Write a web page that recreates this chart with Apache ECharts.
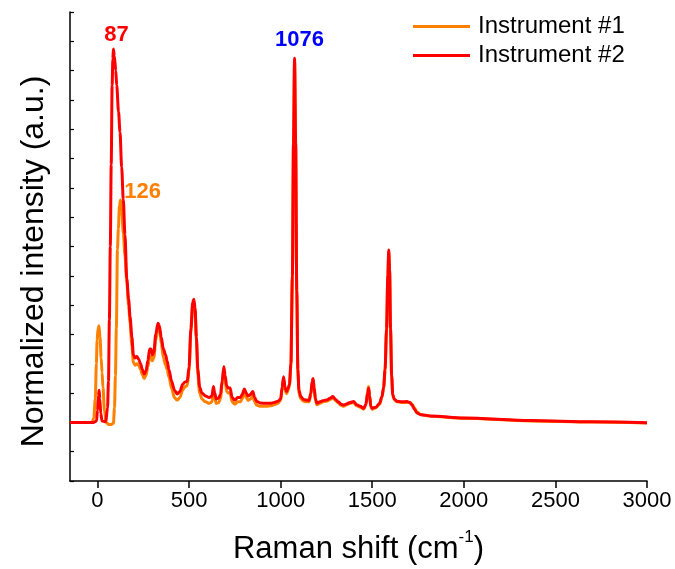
<!DOCTYPE html>
<html><head><meta charset="utf-8">
<script src="https://cdn.jsdelivr.net/npm/echarts@6/dist/echarts.min.js"></script>
<style>html,body{margin:0;padding:0;background:#fff}#c{width:675px;height:569px}</style>
</head><body><div id="c"></div>
<script>
var FONT = "'Liberation Sans', Arial, sans-serif";
var xTicks = [0, 500, 1000, 1500, 2000, 2500, 3000];
var seriesNames = ['Instrument #1', 'Instrument #2'];

var shift1 = [-150,-30,-20,-12,-6,-2,3,8,14,20,25,30,38,48,60,75,87,93,98,103,109,114,120,126,133,141,150,160,170,178,188,196,205,215,225,235,245,255,265,275,285,292,300,308,318,330,338,348,360,372,380,390,405,420,435,450,465,478,490,500,510,520,526,533,540,548,558,570,590,610,625,633,640,648,660,672,680,690,697,705,715,724,735,750,765,780,790,802,812,822,835,848,858,870,890,920,945,965,985,1000,1008,1016,1024,1032,1040,1048,1056,1064,1070,1076,1082,1088,1094,1100,1110,1125,1140,1155,1165,1172,1177,1183,1190,1198,1215,1230,1250,1270,1285,1300,1315,1330,1344,1360,1380,1398,1415,1435,1453,1465,1475,1480,1486,1492,1500,1520,1540,1553,1562,1570,1578,1585,1590,1595,1600,1606,1612,1620,1635,1660,1690,1705,1717,1730,1745,1765,1790,1817,2000,2364,2700,3000];
var intensity1 = [2.0,2.0,2.15,2.8,4.0,4.8,5.2,5.3,4.9,4.2,3.7,3.2,2.4,2.0,1.93,1.93,1.97,2.5,3.6,5.2,7.9,8.6,9.4,9.59,9.2,8.45,7.7,6.8,6.0,5.4,4.6,4.05,3.95,4.0,3.95,3.8,3.62,3.5,3.6,3.9,4.2,4.25,4.1,4.2,4.8,5.3,5.2,4.7,4.2,3.95,3.8,3.55,3.15,2.85,2.76,2.85,3.1,3.22,3.25,3.75,5.1,6.0,6.1,5.8,4.8,3.6,3.0,2.8,2.7,2.65,2.7,3.05,2.85,2.65,2.67,2.8,3.25,3.75,3.45,3.05,3.0,3.0,2.7,2.62,2.7,2.7,2.8,3.0,2.85,2.75,2.8,2.9,2.7,2.58,2.55,2.55,2.57,2.6,2.65,2.75,3.1,3.45,3.1,2.98,3.08,3.25,3.95,6.9,11.4,14.3,11.4,6.4,3.7,3.0,2.8,2.72,2.7,2.7,2.95,3.35,3.45,3.15,2.75,2.6,2.65,2.7,2.72,2.78,2.84,2.74,2.66,2.58,2.55,2.6,2.65,2.68,2.57,2.52,2.45,2.6,3.05,3.22,2.9,2.52,2.45,2.5,2.62,2.85,3.15,3.75,5.1,6.9,7.8,7.1,5.1,3.55,2.92,2.78,2.7,2.68,2.68,2.68,2.62,2.5,2.35,2.27,2.24,2.21,2.14,2.05,2.01,1.98];

var shift2 = [-150,-20,-5,0,5,9,13,18,25,45,55,60,65,70,75,80,84,87,92,100,105,115,123,132,141,150,160,170,178,188,196,205,215,225,235,245,255,265,275,285,292,300,308,318,330,338,348,360,372,380,390,405,420,435,450,465,478,490,500,510,520,526,533,540,548,558,570,590,610,625,633,640,648,660,672,680,690,697,705,715,724,735,750,765,780,790,802,812,822,835,848,858,870,890,920,945,965,985,1000,1008,1016,1024,1032,1040,1048,1056,1064,1070,1076,1082,1088,1094,1100,1110,1125,1140,1155,1165,1172,1177,1183,1190,1198,1215,1230,1250,1270,1285,1300,1315,1330,1344,1360,1380,1398,1415,1435,1453,1465,1475,1480,1486,1492,1500,1520,1540,1553,1562,1570,1578,1585,1590,1595,1600,1606,1612,1620,1635,1660,1690,1705,1717,1730,1745,1765,1790,1817,2000,2364,2700,3000];
var intensity2 = [2.0,2.0,2.05,2.4,2.9,3.1,2.8,2.3,2.05,2.02,2.5,3.4,5.5,8.0,10.8,13.5,14.4,14.74,14.5,14.0,13.5,12.6,11.9,10.7,9.6,8.4,6.9,6.2,5.6,4.9,4.3,4.2,4.25,4.15,4.0,3.8,3.65,3.75,4.1,4.5,4.5,4.3,4.4,5.0,5.38,5.3,4.9,4.5,4.3,4.1,3.8,3.4,3.1,2.97,3.05,3.3,3.38,3.4,3.9,5.2,6.1,6.2,5.9,4.9,3.8,3.2,3.0,2.9,2.85,2.9,3.22,3.0,2.8,2.82,2.95,3.4,3.9,3.6,3.25,3.17,3.17,2.85,2.76,2.85,2.85,2.95,3.14,3.0,2.9,2.95,3.05,2.85,2.71,2.66,2.65,2.65,2.68,2.72,2.8,3.2,3.56,3.2,3.05,3.15,3.3,4.0,7.0,11.5,14.42,11.5,6.5,3.8,3.1,2.88,2.78,2.76,2.75,3.0,3.4,3.5,3.2,2.8,2.65,2.7,2.74,2.76,2.82,2.88,2.78,2.7,2.62,2.59,2.63,2.68,2.71,2.6,2.55,2.48,2.6,3.0,3.16,2.9,2.55,2.48,2.52,2.65,2.88,3.2,3.8,5.2,7.0,7.88,7.2,5.2,3.6,2.95,2.8,2.72,2.7,2.71,2.68,2.6,2.45,2.32,2.26,2.24,2.22,2.15,2.06,2.02,1.99];

var peakLabels1 = [{x: 126, text: '126'}];
var peakLabels2 = [{x: 87, text: '87', color: '#FF0000'}, {x: 1076, text: '1076', color: '#0000FF'}];

function pairs(xs, ys){ return xs.map(function(x,i){ return [x, ys[i]]; }); }
function yAt(xs, ys, x){ return ys[xs.indexOf(x)]; }

var chart = echarts.init(document.getElementById('c'), null, {renderer: 'canvas'});
chart.setOption({
  animation: false,
  backgroundColor: '#fff',
  grid: {left: 70, right: 28, top: 12, bottom: 88, containLabel: false, outerBoundsMode: 'none'},
  legend: {
    orient: 'vertical', left: 413, top: 12, itemGap: 0, padding: 0,
    itemWidth: 57, itemHeight: 3, icon: 'rect',
    textStyle: {fontFamily: FONT, fontSize: 24, color: '#000', lineHeight: 29, padding: [0,0,0,3]},
    data: seriesNames
  },
  xAxis: {
    type: 'value', min: -150, max: 3000,
    name: '{a|Raman shift (cm}{s|-1}{a|)}', nameLocation: 'middle', nameGap: 48,
    nameTextStyle: {rich: {
      a: {fontFamily: FONT, fontSize: 31, color: '#000', lineHeight: 36, verticalAlign: 'bottom'},
      s: {fontFamily: FONT, fontSize: 17, color: '#000', lineHeight: 36, verticalAlign: 'top', padding: [0,0,12,0]}
    }},
    axisLine: {show: true, onZero: false, lineStyle: {color: '#000', width: 1.5}},
    axisTick: {show: true, inside: false, length: 7, lineStyle: {color: '#000', width: 1.5}, customValues: xTicks},
    axisLabel: {show: true, fontFamily: FONT, fontSize: 22, color: '#000', margin: 9, customValues: xTicks,
      formatter: function(v){ return String(v); }},
    splitLine: {show: false}
  },
  yAxis: {
    type: 'value', min: 0, max: 16, interval: 1,
    name: 'Normalized intensity (a.u.)', nameLocation: 'middle', nameGap: 20, nameRotate: 90,
    nameTextStyle: {fontFamily: FONT, fontSize: 32, color: '#000', padding: [0, 30, 0, 0]},
    axisLine: {show: true, onZero: false, lineStyle: {color: '#000', width: 1.5}},
    axisTick: {show: true, inside: true, length: 4, lineStyle: {color: '#000', width: 1.2}},
    axisLabel: {show: false},
    splitLine: {show: false}
  },
  series: [
    {
      name: seriesNames[0], type: 'line', data: pairs(shift1, intensity1),
      showSymbol: false, smooth: 0.3, smoothMonotone: 'x',
      lineStyle: {color: '#FF8000', width: 3}, itemStyle: {color: '#FF8000'},
      markPoint: {
        symbol: 'circle', symbolSize: 0, silent: true,
        data: peakLabels1.map(function(p){ return {coord: [p.x, yAt(shift1, intensity1, p.x)],
          label: {show: true, formatter: p.text, position: 'inside', offset: [22, -8],
            fontFamily: FONT, fontWeight: 'bold', fontSize: 22, color: '#FF8000'}}; })
      }
    },
    {
      name: seriesNames[1], type: 'line', data: pairs(shift2, intensity2),
      showSymbol: false, smooth: 0.3, smoothMonotone: 'x',
      lineStyle: {color: '#FF0000', width: 3}, itemStyle: {color: '#FF0000'},
      markPoint: {
        symbol: 'circle', symbolSize: 0, silent: true,
        data: peakLabels2.map(function(p, i){ return {coord: [p.x, yAt(shift2, intensity2, p.x)],
          label: {show: true, formatter: p.text, position: 'inside', offset: i === 0 ? [3, -14] : [5, -18],
            fontFamily: FONT, fontWeight: 'bold', fontSize: 22, color: p.color}}; })
      }
    }
  ]
});
</script>
</body></html>
